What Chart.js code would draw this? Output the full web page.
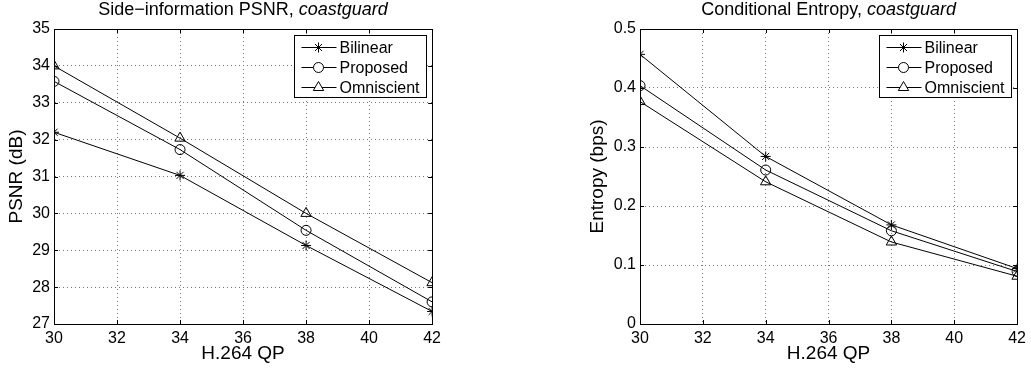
<!DOCTYPE html>
<html>
<head>
<meta charset="utf-8">
<script src="https://cdn.jsdelivr.net/npm/chart.js@4/dist/chart.umd.min.js"></script>
<style>
  html, body { margin: 0; padding: 0; background: #fff; }
  body { width: 1031px; height: 372px; position: relative; overflow: hidden; }
  .box { position: absolute; top: 0; height: 372px; }
  #leftBox { left: 0; width: 446px; }
  #rightBox { left: 540px; width: 491px; }
</style>
</head>
<body>
<div class="box" id="leftBox"><canvas id="psnrChart"></canvas></div>
<div class="box" id="rightBox"><canvas id="entChart"></canvas></div>
<script>
// data
const qp = [30, 34, 38, 42];
const seriesNames = ['Bilinear', 'Proposed', 'Omniscient'];
const markers = ['star', 'circle', 'triangle'];

const psnrBilinear = [32.2, 31.03, 29.13, 27.34];
const psnrProposed = [33.58, 31.73, 29.54, 27.6];
const psnrOmniscient = [34.0, 32.04, 30.0, 28.12];

const entBilinear = [0.457, 0.284, 0.168, 0.094];
const entProposed = [0.404, 0.261, 0.158, 0.089];
const entOmniscient = [0.377, 0.241, 0.139, 0.081];

const xTicks = [30, 32, 34, 36, 38, 40, 42];
const psnrTicks = [27, 28, 29, 30, 31, 32, 33, 34, 35];
const entTicks = [0, 0.1, 0.2, 0.3, 0.4, 0.5];

const FONT = 'Liberation Sans, Arial, Helvetica, sans-serif';
const markerRadius = { star: 5, circle: 5, triangle: 6 };

Chart.defaults.font.family = FONT;
Chart.defaults.color = '#000';

function makeSets(values) {
  return values.map((vals, i) => ({
    label: seriesNames[i],
    data: qp.map((q, j) => ({ x: q, y: vals[j] })),
    borderColor: '#000',
    borderWidth: 1,
    pointStyle: markers[i],
    pointRadius: markerRadius[markers[i]],
    pointBorderColor: '#000',
    pointBorderWidth: 1,
    pointBackgroundColor: 'rgba(0,0,0,0)',
    tension: 0,
    fill: false
  }));
}

// border box, inward ticks, mixed-style title and matlab-like legend
const matlabLook = {
  id: 'matlabLook',
  afterDraw(chart) {
    const ctx = chart.ctx;
    const a = chart.chartArea;
    const xs = chart.scales.x, ys = chart.scales.y;
    ctx.save();
    ctx.strokeStyle = '#000';
    ctx.lineWidth = 1;
    ctx.strokeRect(Math.round(a.left) + 0.5, Math.round(a.top) + 0.5,
      Math.round(a.right - a.left), Math.round(a.bottom - a.top));

    // inward tick marks on all sides
    ctx.beginPath();
    xs.ticks.forEach(t => {
      const px = Math.round(xs.getPixelForValue(t.value)) + 0.5;
      ctx.moveTo(px, a.bottom); ctx.lineTo(px, a.bottom - 4);
      ctx.moveTo(px, a.top); ctx.lineTo(px, a.top + 4);
    });
    ys.ticks.forEach(t => {
      const py = Math.round(ys.getPixelForValue(t.value)) + 0.5;
      ctx.moveTo(a.left, py); ctx.lineTo(a.left + 4, py);
      ctx.moveTo(a.right, py); ctx.lineTo(a.right - 4, py);
    });
    ctx.stroke();

    // title: normal + italic part
    const t = chart.options.plugins.matlabLook;
    ctx.fillStyle = '#000';
    ctx.textBaseline = 'middle';
    ctx.textAlign = 'left';
    const normalFont = '18px ' + FONT, italicFont = 'italic 18px ' + FONT;
    ctx.font = normalFont;
    const w1 = ctx.measureText(t.title).width;
    ctx.font = italicFont;
    const w2 = ctx.measureText(t.titleItalic).width;
    let tx = (a.left + a.right) / 2 - (w1 + w2) / 2;
    ctx.font = normalFont;
    ctx.fillText(t.title, tx, 10);
    ctx.font = italicFont;
    ctx.fillText(t.titleItalic, tx + w1, 10);

    // legend
    const bw = 132, bh = 62;
    const bx = Math.round(a.right - 6 - bw) + 0.5, by = Math.round(a.top + 6) + 0.5;
    ctx.fillStyle = '#fff';
    ctx.fillRect(bx, by, bw, bh);
    ctx.strokeRect(bx, by, bw, bh);
    ctx.font = '16px ' + FONT;
    chart.data.datasets.forEach((ds, i) => {
      const ry = Math.round(by + 11 + i * 20) + 0.5;
      ctx.beginPath();
      ctx.moveTo(bx + 7, ry); ctx.lineTo(bx + 42, ry);
      ctx.stroke();
      ctx.fillStyle = '#fff';
      Chart.helpers.drawPoint(ctx, {
        pointStyle: ds.pointStyle, radius: ds.pointRadius, borderWidth: 1, rotation: 0
      }, bx + 24, ry);
      ctx.fillStyle = '#000';
      ctx.fillText(ds.label, bx + 45, ry + 1);
    });
    ctx.restore();
  }
};

function makeOptions(yTicks, yTitle, yWidth, yTitlePad, padRight, title) {
  return {
    responsive: true,
    maintainAspectRatio: false,
    animation: false,
    layout: { padding: { top: 29, right: padRight, bottom: 0, left: 0 } },
    plugins: {
      legend: { display: false },
      tooltip: { enabled: false },
      matlabLook: title
    },
    scales: {
      x: {
        type: 'linear',
        min: xTicks[0], max: xTicks[xTicks.length - 1],
        afterBuildTicks: s => { s.ticks = xTicks.map(v => ({ value: v })); },
        afterFit: s => { s.height = 48; },
        ticks: { font: { size: 16 }, padding: 5, color: '#000', maxRotation: 0 },
        grid: { color: '#777', drawTicks: false, tickBorderDash: [1, 3] },
        border: { display: true, color: '#000', width: 1, dash: [1, 3] },
        title: { display: true, text: 'H.264 QP', font: { size: 19 }, color: '#000', padding: { top: 0, bottom: 6.6 } }
      },
      y: {
        type: 'linear',
        min: yTicks[0], max: yTicks[yTicks.length - 1],
        afterBuildTicks: s => { s.ticks = yTicks.map(v => ({ value: v })); },
        afterFit: s => { s.width = yWidth; },
        ticks: { font: { size: 16 }, padding: 4, color: '#000' },
        grid: { color: '#777', drawTicks: false },
        border: { display: true, color: '#000', width: 1, dash: [1, 3] },
        title: { display: true, text: yTitle, font: { size: 19 }, color: '#000', padding: { top: 5.6, bottom: 0 } }
      }
    }
  };
}

// dotted grid lines
function dotted(opts) {
  opts.scales.x.grid.borderDash = [1, 3];
  opts.scales.y.grid.borderDash = [1, 3];
  opts.scales.x.border.dash = [1, 3];
  opts.scales.y.border.dash = [1, 3];
  return opts;
}

const leftOpts = dotted(makeOptions(psnrTicks, 'PSNR (dB)', 54, 5.6, 10,
  { title: 'Side\u2212information PSNR, ', titleItalic: 'coastguard' }));
const rightOpts = dotted(makeOptions(entTicks, 'Entropy (bps)', 100, 46.6, 9,
  { title: 'Conditional Entropy, ', titleItalic: 'coastguard' }));
rightOpts.scales.y.title.padding = { top: 46.6, bottom: 0 };

new Chart(document.getElementById('psnrChart'), {
  type: 'line',
  data: { datasets: makeSets([psnrBilinear, psnrProposed, psnrOmniscient]) },
  options: leftOpts,
  plugins: [matlabLook]
});

new Chart(document.getElementById('entChart'), {
  type: 'line',
  data: { datasets: makeSets([entBilinear, entProposed, entOmniscient]) },
  options: rightOpts,
  plugins: [matlabLook]
});
</script>
</body>
</html>
